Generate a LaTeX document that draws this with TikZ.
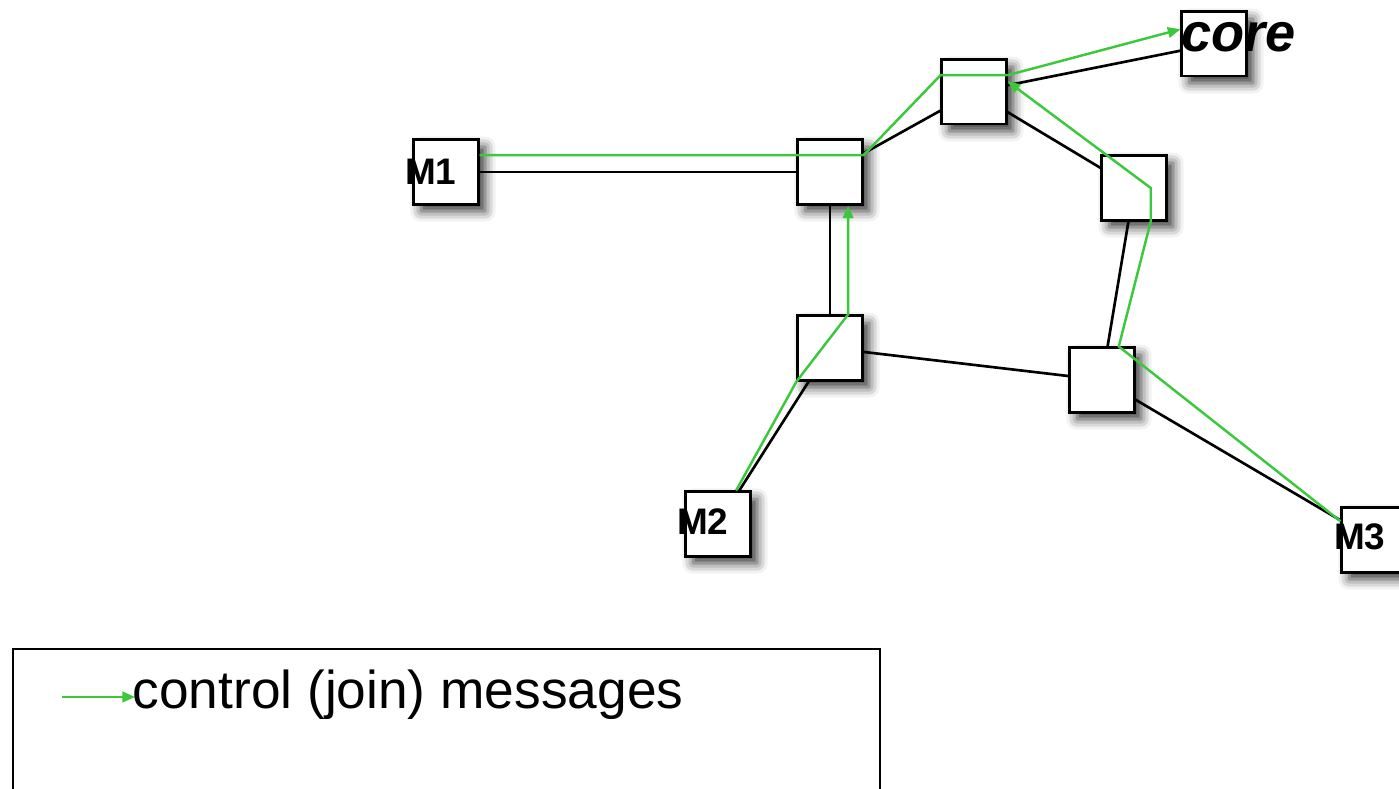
\documentclass[tikz,border=0pt]{standalone}
\usepackage{fontspec}
\setmainfont{Liberation Sans}
\usetikzlibrary{arrows.meta,calc,shadows.blur}

\definecolor{joingreen}{RGB}{60,200,60}

\tikzset{
  boxface/.style={draw=black, line width=0.85pt, fill=white,
    minimum size=0.64cm, inner sep=0pt},
  router/.style={boxface,
    blur shadow={shadow xshift=2pt, shadow yshift=-2pt,
      shadow blur radius=3pt, shadow opacity=80}},
  mlabel/.style={inner sep=0pt, anchor=base west,
    font=\fontsize{10.5}{12}\selectfont\bfseries},
  link/.style={draw=black, line width=0.75pt},
  joinmsg/.style={draw=joingreen, line width=0.7pt,
    -{Triangle[length=3.6pt,width=3pt]}},
  legendbox/.style={draw=black, line width=0.6pt, fill=white,
    minimum width=8.66cm, minimum height=1.6cm, inner sep=0pt, anchor=north west},
}

\begin{document}
\begin{tikzpicture}[x=0.01cm, y=-0.01cm]
  \useasboundingbox (0,0) rectangle (1399,789);
  \clip (0,0) rectangle (1399,789);

  % routers and hosts
  \node[router] (M1)   at (446,172) {};
  \node[router] (A)    at (830,172) {};
  \node[router] (B)    at (974,92)  {};
  \node[router] (core) at (1214,44) {};
  \node[router] (C)    at (1134,188) {};
  \node[router] (D)    at (830,348) {};
  \node[router] (E)    at (1102,380) {};
  \node[router] (M2)   at (718,524) {};
  \node[router] (M3)   at (1374,540) {};

  % physical links
  \draw[link] (M1) -- (A);
  \draw[link] (A) -- (B);
  \draw[link] (B) -- (core);
  \draw[link] (B) -- (C);
  \draw[link] (C) -- (E);
  \draw[link] (A) -- (D);
  \draw[link] (D) -- (E);
  \draw[link] (D) -- (M2);
  \draw[link] (E) -- (M3);

  % box faces drawn again above the links
  \foreach \n in {M1,A,B,core,C,D,E,M2,M3}
    \node[boxface] (\n-face) at (\n) {};

  % host labels
  \node[mlabel] (M1t) at ($(M1.west)+(-8,13)$) {M1};
  \node[mlabel] (M2t) at ($(M2.west)+(-8,11)$) {M2};
  \node[mlabel] (M3t) at ($(M3.west)+(-7,10)$) {M3};
  \node[inner sep=0pt, anchor=base west,
    font=\fontsize{15.4}{18}\selectfont\bfseries\itshape] (coret)
    at ($(core.west)+(0,8)$) {core};

  % join messages from M1 towards the core
  \draw[joinmsg]
    ($(M1.north east)!0.25!(M1.south east)$)
    -- ($(A.north east)!0.25!(A.south east)$)
    -- ($(B.north west)!0.25!(B.south west)$)
    -- ($(B.north east)!0.25!(B.south east)$)
    -- ($(core.north west)!0.28!(core.south west)$);

  % join messages from M2
  \draw[joinmsg]
    ($(M2.north west)!0.77!(M2.north east)$)
    -- (D.south west)
    -- ($(D.north west)!0.77!(D.north east)$)
    -- ($(A.south west)!0.77!(A.south east)$);

  % join messages from M3
  \draw[joinmsg]
    ($(M3.north west)!0.22!(M3.south west)$)
    -- ($(E.north west)!0.75!(E.north east)$)
    -- ($(C.south west)!0.75!(C.south east)$)
    -- ($(C.west)!0.75!(C.east)$)
    -- ($(B.north east)!0.34!(B.south east)$);

  % legend
  \node[legendbox] (legend) at (12,648) {};
  \coordinate (legA) at ($(legend.north west)+(50,49)$);
  \coordinate (legB) at ($(legend.north west)+(123,49)$);
  \draw[joinmsg] (legA) -- (legB);
  \node[inner sep=0pt, anchor=base west,
    font=\fontsize{15.15}{18}\selectfont] (legtext)
    at ($(legend.north west)+(120,61)$) {control (join) messages};
\end{tikzpicture}
\end{document}
